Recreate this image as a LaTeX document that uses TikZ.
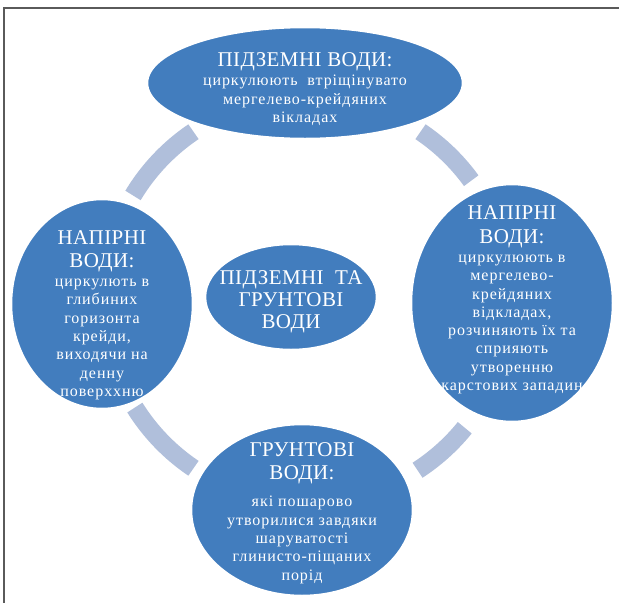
\documentclass[tikz,border=0pt]{standalone}
\usepackage{fontspec}
\setmainfont{Liberation Serif}
\usetikzlibrary{shapes.geometric}
\definecolor{blu}{RGB}{66,125,190}
\definecolor{ringc}{RGB}{176,191,219}
\definecolor{framec}{RGB}{90,90,90}
\newcommand{\hd}{\fontsize{21}{22}\selectfont\addfontfeatures{LetterSpace=2}}
\newcommand{\bd}{\fontsize{16}{18.3}\selectfont\addfontfeatures{LetterSpace=6}}
\begin{document}
\begin{tikzpicture}[x=1pt,y=-1pt,
  ell/.style={ellipse, fill=blu, draw=white, line width=2.5pt, inner sep=0pt},
  txt/.style={text=white, align=center, inner sep=0pt, font=\bd},
  httxt/.style={text=white, align=center, inner sep=0pt, font=\hd},
  ringarc/.style={draw=ringc, line width=18pt, line cap=butt}]
\useasboundingbox (0,0) rectangle (619,603);
\draw[framec, line width=1.5pt] (619,8) -- (4,8) -- (4,603);
\coordinate (c) at (307,300);
% ring arcs
\draw[ringarc] ([shift={(-124:203)}]c) arc[start angle=-124, end angle=-149, radius=203];
\draw[ringarc] ([shift={(-36:203)}]c) arc[start angle=-36, end angle=-56, radius=203];
\draw[ringarc] ([shift={(-212:203)}]c) arc[start angle=-212, end angle=-236, radius=203];
\draw[ringarc] ([shift={(-303:203)}]c) arc[start angle=-303, end angle=-321, radius=203];
% ellipses
\node[ell, minimum width=316pt, minimum height=112pt] (top) at (305,83) {};
\node[ell, minimum width=182pt, minimum height=210pt] (left) at (102,304) {};
\node[ell, minimum width=202pt, minimum height=238pt] (right) at (512,303) {};
\node[ell, minimum width=222pt, minimum height=172pt] (bot) at (302,510) {};
\node[ell, minimum width=172pt, minimum height=106pt] (mid) at (291,297) {};
% texts
\node[txt] (toptxt) at (305,89) {{\hd ПІДЗЕМНІ ВОДИ:}\\[1pt] циркулюють\ \ втріщінувато\\ мергелево-крейдяних\\ вікладах};
\node[txt] (lefttxt) at (102,315) {{\hd НАПІРНІ}\\[5pt] {\hd ВОДИ:}\\[1pt] циркулють в\\ глибиних\\ горизонта\\ крейди,\\ виходячи на\\ денну\\ поверххню};
\node[txt] (righttxt) at (512,300) {{\hd НАПІРНІ}\\[5pt] {\hd ВОДИ:}\\[1pt] циркулюють в\\ мергелево-\\ крейдяних\\ відкладах,\\ розчиняють їх та\\ сприяють\\ утворенню\\ карстових западин};
\node[txt] (bottxt) at (302,513) {{\hd ГРУНТОВІ}\\[5pt] {\hd ВОДИ:}\\[9pt] які пошарово\\ утворилися завдяки\\ шаруватості\\ глинисто-піщаних\\ порід};
\node[httxt] (midtxt) at (291,302) {ПІДЗЕМНІ\ \ ТА\\ ГРУНТОВІ\\ ВОДИ};
\end{tikzpicture}
\end{document}
